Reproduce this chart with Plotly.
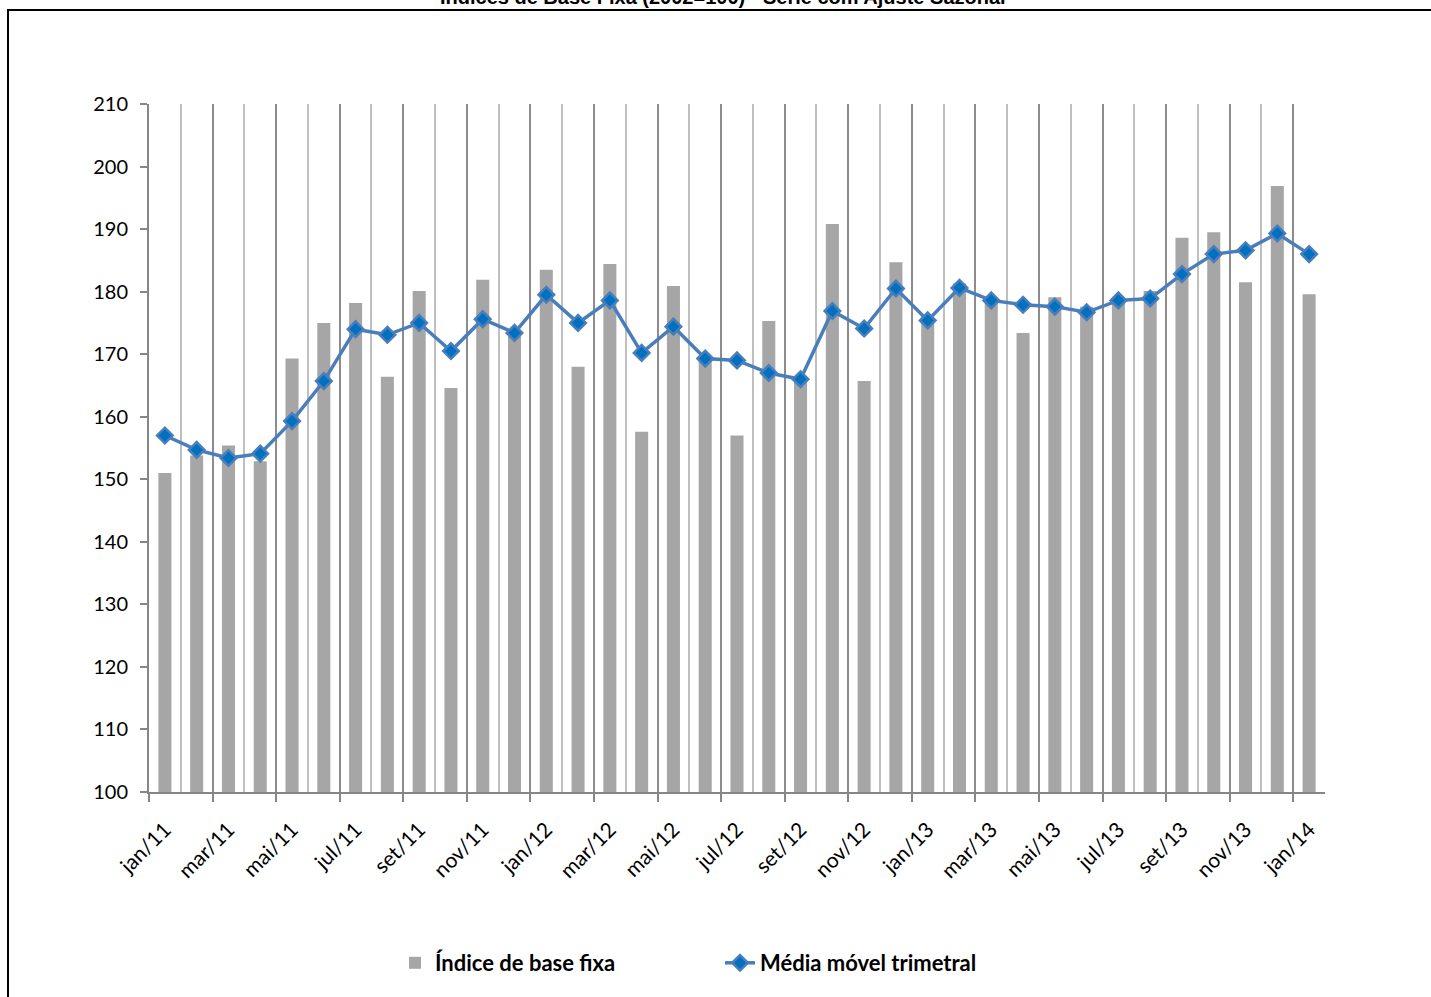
import plotly.graph_objects as go

# ---- data ----
months = ["jan/11", "fev/11", "mar/11", "abr/11", "mai/11", "jun/11", "jul/11", "ago/11",
          "set/11", "out/11", "nov/11", "dez/11",
          "jan/12", "fev/12", "mar/12", "abr/12", "mai/12", "jun/12", "jul/12", "ago/12",
          "set/12", "out/12", "nov/12", "dez/12",
          "jan/13", "fev/13", "mar/13", "abr/13", "mai/13", "jun/13", "jul/13", "ago/13",
          "set/13", "out/13", "nov/13", "dez/13",
          "jan/14"]
indice_base_fixa = [151.0, 153.8, 155.4, 152.9, 169.3, 175.0, 178.2, 166.4, 180.1, 164.6, 181.9, 173.1,
                    183.5, 168.0, 184.4, 157.6, 180.9, 169.4, 157.0, 175.3, 165.7, 190.8, 165.7, 184.7,
                    175.8, 181.3, 178.7, 173.4, 179.1, 177.6, 179.1, 180.1, 188.6, 189.5, 181.5, 196.9,
                    179.6]
media_movel = [157.0, 154.7, 153.4, 154.1, 159.3, 165.7, 174.0, 173.1, 175.0, 170.5, 175.6, 173.4,
               179.5, 175.0, 178.6, 170.2, 174.4, 169.3, 169.0, 167.0, 166.0, 176.9, 174.1, 180.5,
               175.4, 180.6, 178.6, 177.9, 177.6, 176.7, 178.6, 178.9, 182.8, 186.0, 186.6, 189.3,
               186.0]
y_ticks = [100, 110, 120, 130, 140, 150, 160, 170, 180, 190, 200, 210]
title_text = "Índices de Base Fixa (2002=100) - Série com Ajuste Sazonal"

n = len(months)
xs = list(range(n))
label_pos = xs[::2]
label_txt = months[::2]
major_bounds = [i - 0.5 for i in range(0, n, 2)]
minor_bounds = [i + 0.5 for i in range(0, n, 2)]

W, H = 1431, 997
L, R, T, B = 149, 1325, 104, 792
pw, ph = R - L, B - T


def px_x(p):
    return (p - L) / pw


def px_y(p):
    return (B - p) / ph


fig = go.Figure()
fig.add_trace(go.Bar(
    x=xs, y=indice_base_fixa, name="Índice de base fixa",
    marker=dict(color="#A6A6A6", line=dict(width=0)), width=0.41,
    xaxis="x", yaxis="y",
))
fig.add_trace(go.Scatter(
    x=xs, y=media_movel, name="Média móvel trimetral", mode="lines+markers",
    line=dict(color="#4A7EBB", width=3.5),
    marker=dict(symbol="diamond", size=12, color="#0070C0", line=dict(color="#4A7EBB", width=2.5)),
    xaxis="x2", yaxis="y",
))

rng = [-0.5, n - 0.5]
fig.update_layout(
    width=W, height=H, autosize=False,
    margin=dict(l=L, r=W - R, t=T, b=H - B),
    paper_bgcolor="white", plot_bgcolor="white",
    showlegend=True,
    legend=dict(orientation="h", x=px_x(395), xanchor="left", y=px_y(963), yanchor="middle",
                font=dict(family="Lato", size=22, color="black", weight="bold"),
                entrywidth=280, entrywidthmode="pixels", traceorder="normal",
                bgcolor="rgba(0,0,0,0)"),
    bargap=0.59,
    xaxis=dict(
        range=rng, showticklabels=False, tickmode="array", tickvals=major_bounds,
        ticks="outside", ticklen=8, tickcolor="#868686", tickwidth=1.5,
        showgrid=True, gridcolor="#8C8C8C", gridwidth=1.5,
        showline=True, linecolor="#868686", linewidth=2,
        minor=dict(tickmode="array", tickvals=minor_bounds, showgrid=True,
                   gridcolor="#BFBFBF", gridwidth=1.5, ticks=""),
        zeroline=False,
    ),
    xaxis2=dict(
        range=rng, overlaying="x", anchor="y", side="bottom", matches="x",
        tickmode="array", tickvals=label_pos, ticktext=label_txt, tickangle=-45,
        ticks="outside", ticklen=16, tickcolor="rgba(0,0,0,0)",
        tickfont=dict(family="Lato", size=21, color="black"),
        showgrid=False, showline=False, zeroline=False,
    ),
    yaxis=dict(
        range=[100, 210], tickmode="array", tickvals=y_ticks,
        ticks="outside", ticklen=7, tickcolor="#868686", tickwidth=1.5,
        tickfont=dict(family="Lato", size=20, color="black"),
        showgrid=False, showline=True, linecolor="#868686", linewidth=2, zeroline=False,
        ticklabelstandoff=8,
    ),
    shapes=[dict(type="rect", xref="paper", yref="paper",
                 x0=px_x(8), x1=px_x(1445), y0=px_y(1010), y1=px_y(10),
                 line=dict(color="black", width=2), fillcolor="rgba(0,0,0,0)", layer="above")],
    annotations=[dict(text=title_text, xref="paper", yref="paper", x=px_x(723), y=px_y(-3),
                      xanchor="center", yanchor="middle", showarrow=False,
                      font=dict(family="Liberation Sans", size=20, color="black", weight="bold"))],
)

fig.write_html("out.html")
